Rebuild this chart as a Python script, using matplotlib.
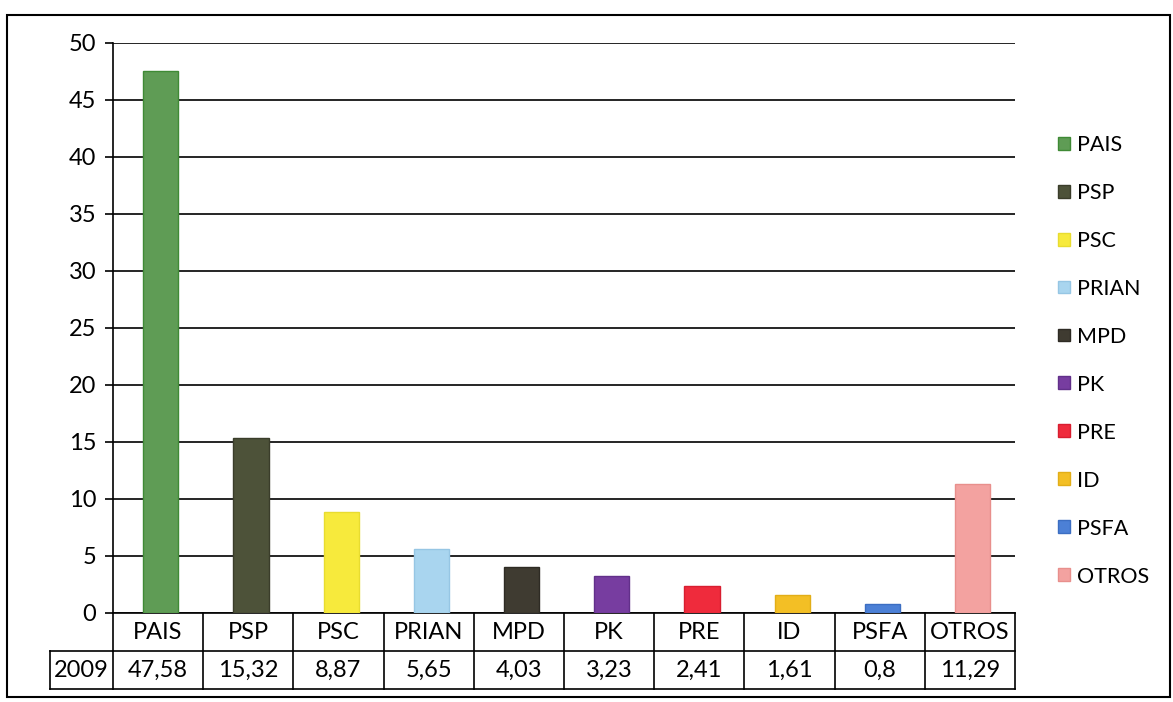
import numpy as np
import matplotlib.pyplot as plt
from matplotlib.patches import Rectangle, Patch

#Data of the chart
partidos = ["PAIS", "PSP", "PSC", "PRIAN", "MPD", "PK", "PRE", "ID", "PSFA", "OTROS"]
votos = [47.58, 15.32, 8.87, 5.65, 4.03, 3.23, 2.41, 1.61, 0.8, 11.29]
anio = "2009"
colores = ["#5f9c55", "#4d5239", "#f7ea3c", "#a9d5ef", "#3f3b31",
	"#773da0", "#ef2b3c", "#f3bf25", "#4c80d6", "#f3a2a0"]
bordes = ["#3f8a35", "#3a3d2a", "#e8dc30", "#96c6e4", "#2e2b24",
	"#62308a", "#d81e30", "#e2ae18", "#3c6ec2", "#e88f8c"]
yticks = [0, 5, 10, 15, 20, 25, 30, 35, 40, 45, 50]

plt.rcParams['font.family'] = ['Lato', 'DejaVu Sans']

fig = plt.figure(figsize=(11.73, 7.02), dpi=100)
ax = fig.add_axes([0.0963, 0.1268, 0.769, 0.812])

x = np.arange(len(partidos))
ax.bar(x + 0.03, votos, width=0.39, color=colores, edgecolor=bordes, linewidth=1, zorder=3)

#Axes and grid
ax.set_xlim(-0.5, len(partidos) - 0.5)
ax.set_ylim(0, 50)
ax.set_yticks(yticks)
ax.set_xticks([])
ax.yaxis.grid(True, color="black", linewidth=1.2, zorder=0)
for s in ["top", "right", "bottom"]:
	ax.spines[s].set_visible(False)
ax.spines["left"].set_linewidth(1.2)
ax.tick_params(axis="y", length=6, width=1.2, labelsize=17, pad=6)

#Data table under the chart
fila1 = -0.067
fila2 = -0.134
izq = -1.2
kw = dict(color="black", linewidth=1.2, clip_on=False, transform=ax.get_xaxis_transform())
ax.plot([-0.5, len(partidos) - 0.5], [0, 0], **kw)
ax.plot([-0.5, len(partidos) - 0.5], [fila1, fila1], **kw)
ax.plot([izq, -0.5], [fila1, fila1], **kw)
ax.plot([izq, len(partidos) - 0.5], [fila2, fila2], **kw)
ax.plot([izq, izq], [fila1, fila2], **kw)
for i in range(len(partidos) + 1):
	ax.plot([i - 0.5, i - 0.5], [0, fila2], **kw)
for i, p in enumerate(partidos):
	ax.text(i, fila1 / 2, p, ha="center", va="center", fontsize=17,
		transform=ax.get_xaxis_transform())
	ax.text(i, (fila1 + fila2) / 2, str(votos[i]).replace(".", ","), ha="center",
		va="center", fontsize=17, transform=ax.get_xaxis_transform())
ax.text((izq - 0.5) / 2, (fila1 + fila2) / 2, anio, ha="center", va="center",
	fontsize=17, transform=ax.get_xaxis_transform())

#Legend
handles = [Patch(facecolor=colores[i], edgecolor=bordes[i], label=partidos[i])
	for i in range(len(partidos))]
fig.legend(handles=handles, loc="upper left", bbox_to_anchor=(0.893, 0.8235),
	frameon=False, fontsize=15.5, handlelength=0.55, handleheight=0.55,
	handletextpad=0.3, labelspacing=1.3, borderpad=0)

#Outer border
fig.patches.append(Rectangle((7 / 1173, 1 - 697 / 702), 1163 / 1173, 682 / 702,
	transform=fig.transFigure, fill=False, edgecolor="black", linewidth=1.5))

fig.savefig("out.png", dpi=100, facecolor="white")
